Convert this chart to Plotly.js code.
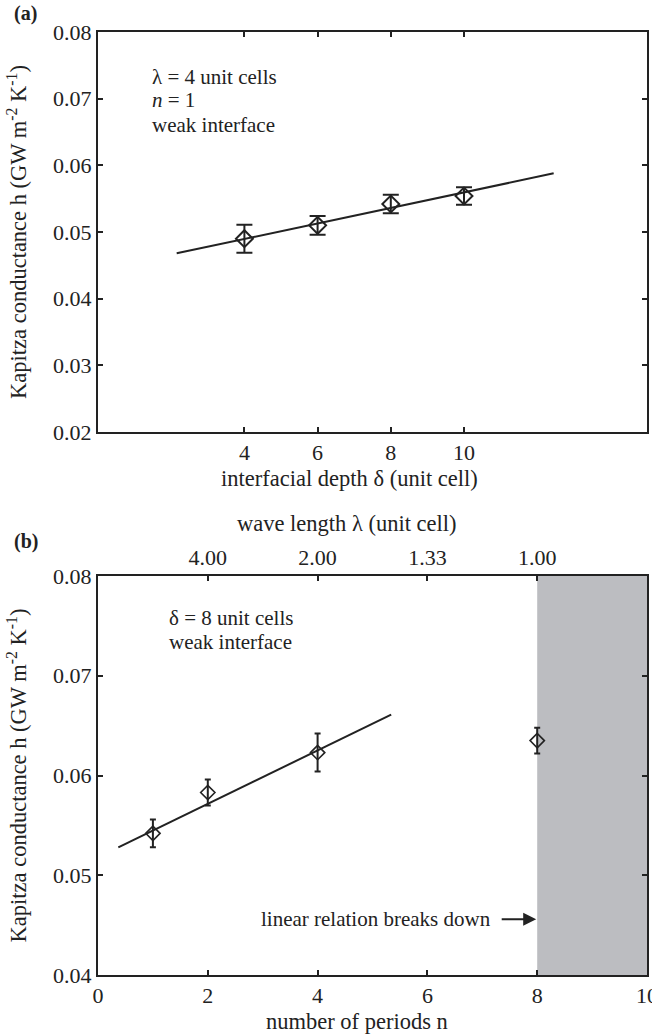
<!DOCTYPE html>
<html>
<head>
<meta charset="utf-8">
<script src="https://cdn.plot.ly/plotly-3.0.1.min.js"></script>
<style>html,body{margin:0;padding:0;background:#fff;}#chart{width:652px;height:1036px;}</style>
</head>
<body>
<div id="chart"></div>
<script>
// ---- Panel (a): h vs interfacial depth ----
const depth = [4, 6, 8, 10];
const hDepth = [0.0490, 0.0510, 0.0542, 0.0554];
const errDepth = [0.0021, 0.0014, 0.0014, 0.0013];
const fitDepthX = [2.15, 12.45];
const fitDepthY = [0.0468, 0.0588];
const depthTicks = [4, 6, 8, 10];

// ---- Panel (b): h vs number of periods ----
const periods = [1, 2, 4, 8];
const hPeriods = [0.0542, 0.0583, 0.0623, 0.0635];
const errPeriods = [0.0014, 0.0013, 0.0019, 0.0013];
const fitPeriodsX = [0.37, 5.34];
const fitPeriodsY = [0.0528, 0.0661];
const periodTicks = [0, 2, 4, 6, 8, 10];
const waveTickPos = [2, 4, 6, 8];
const waveTickText = ["4.00", "2.00", "1.33", "1.00"];
const breakdownRange = [8, 10];

const FONT = "Liberation Serif, Times New Roman, serif";
const INK = "#222";

const traces = [
  {x: fitDepthX, y: fitDepthY, xaxis: "x", yaxis: "y", mode: "lines",
   line: {color: INK, width: 2}, hoverinfo: "skip"},
  {x: depth, y: hDepth, xaxis: "x", yaxis: "y", mode: "markers",
   marker: {symbol: "diamond-open", size: 13, color: INK, line: {width: 2, color: INK}},
   error_y: {type: "data", array: errDepth, visible: true, color: INK, thickness: 2, width: 8}},
  {x: fitPeriodsX, y: fitPeriodsY, xaxis: "x2", yaxis: "y2", mode: "lines",
   line: {color: INK, width: 2}, hoverinfo: "skip"},
  {x: periods, y: hPeriods, xaxis: "x2", yaxis: "y2", mode: "markers",
   marker: {symbol: "diamond-open", size: 11, color: INK, line: {width: 1.6, color: INK}},
   error_y: {type: "data", array: errPeriods, visible: true, color: INK, thickness: 2, width: 3}},
  // invisible trace to activate the top (wave length) axis
  {x: waveTickPos, y: hPeriods, xaxis: "x3", yaxis: "y2", mode: "markers",
   marker: {opacity: 0}, hoverinfo: "skip"}
];

const tickFont = {family: FONT, size: 22, color: INK};
const titleFont = {family: FONT, size: 22.5, color: INK};
const annFont = {family: FONT, size: 21, color: INK};
const ytitle = "Kapitza conductance h (GW m<sup>-2</sup> K<sup>-1</sup>)";

const axisBase = {
  showline: true, linecolor: INK, linewidth: 2, ticks: "inside", ticklen: 5,
  tickwidth: 2, tickcolor: INK, showgrid: false, zeroline: false,
  tickfont: tickFont, mirror: "ticks", ticklabeloverflow: "allow"
};

const layout = {
  width: 652, height: 1036,
  margin: {l: 98, r: 5, t: 32, b: 61},
  paper_bgcolor: "#fff", plot_bgcolor: "rgba(0,0,0,0)",
  showlegend: false,
  font: {family: FONT, color: INK},
  xaxis: Object.assign({}, axisBase, {
    domain: [0, 1], anchor: "y", range: [0, 15], tickvals: depthTicks
  }),
  yaxis: Object.assign({}, axisBase, {
    domain: [0.5758, 1], anchor: "x", range: [0.02, 0.08], dtick: 0.01,
    tickformat: ".2f",
    title: {text: ytitle, font: titleFont, standoff: 20}
  }),
  xaxis2: Object.assign({}, axisBase, {
    domain: [0, 1], anchor: "y2", range: [0, 10], tickvals: periodTicks, mirror: false
  }),
  xaxis3: Object.assign({}, axisBase, {
    overlaying: "x2", anchor: "y2", side: "top", range: [0, 10],
    tickvals: waveTickPos, ticktext: waveTickText, mirror: false
  }),
  yaxis2: Object.assign({}, axisBase, {
    domain: [0, 0.4231], anchor: "x2", range: [0.04, 0.08], dtick: 0.01,
    tickformat: ".2f",
    title: {text: ytitle, font: titleFont, standoff: 20}
  }),
  shapes: [
    {type: "rect", xref: "x2", yref: "y2 domain", x0: breakdownRange[0], x1: breakdownRange[1],
     y0: 0, y1: 1, fillcolor: "#bcbdc1", line: {width: 0}, layer: "below"}
  ],
  annotations: [
    // axis titles (placed as in the reference, slightly left of centre)
    {xref: "paper", yref: "paper", x: 0.459, y: 0.526, xanchor: "center", yanchor: "middle",
     text: "interfacial depth δ (unit cell)", showarrow: false, font: titleFont},
    {xref: "paper", yref: "paper", x: 0.4535, y: 0.4783, xanchor: "center", yanchor: "middle",
     text: "wave length λ (unit cell)", showarrow: false, font: titleFont},
    {xref: "paper", yref: "paper", x: 0.471, y: -0.0498, xanchor: "center", yanchor: "middle",
     text: "number of periods n", showarrow: false, font: titleFont},
    // panel labels
    {xref: "paper", yref: "paper", x: -0.157, y: 1.005, xanchor: "left", yanchor: "bottom",
     text: "<b>(a)</b>", showarrow: false, font: {family: FONT, size: 20, color: INK}},
    {xref: "paper", yref: "paper", x: -0.157, y: 0.4231 + 0.037, xanchor: "left", yanchor: "middle",
     text: "<b>(b)</b>", showarrow: false, font: {family: FONT, size: 20, color: INK}},
    // in-plot notes
    {xref: "x domain", yref: "y domain", x: 0.0947, y: 0.8875, xanchor: "left", yanchor: "middle",
     text: "λ = 4 unit cells", showarrow: false, font: annFont},
    {xref: "x domain", yref: "y domain", x: 0.0947, y: 0.83, xanchor: "left", yanchor: "middle",
     text: "<i>n</i> = 1", showarrow: false, font: annFont},
    {xref: "x domain", yref: "y domain", x: 0.0947, y: 0.7675, xanchor: "left", yanchor: "middle",
     text: "weak interface", showarrow: false, font: annFont},
    {xref: "x2 domain", yref: "y2 domain", x: 0.126, y: 0.895, xanchor: "left", yanchor: "middle",
     text: "δ = 8 unit cells", showarrow: false, font: annFont},
    {xref: "x2 domain", yref: "y2 domain", x: 0.126, y: 0.835, xanchor: "left", yanchor: "middle",
     text: "weak interface", showarrow: false, font: annFont},
    {xref: "x2", yref: "y2", x: 7.2, y: 0.0456, xanchor: "right", yanchor: "middle",
     text: "linear relation breaks down", showarrow: false, font: annFont},
    {xref: "x2", yref: "y2", x: breakdownRange[0], y: 0.0456, text: "", showarrow: true,
     ax: -37, ay: 0, arrowhead: 2, arrowsize: 1.3, arrowwidth: 2, arrowcolor: INK, standoff: 1}
  ]
};

Plotly.newPlot("chart", traces, layout, {displayModeBar: false, staticPlot: true});
</script>
</body>
</html>
